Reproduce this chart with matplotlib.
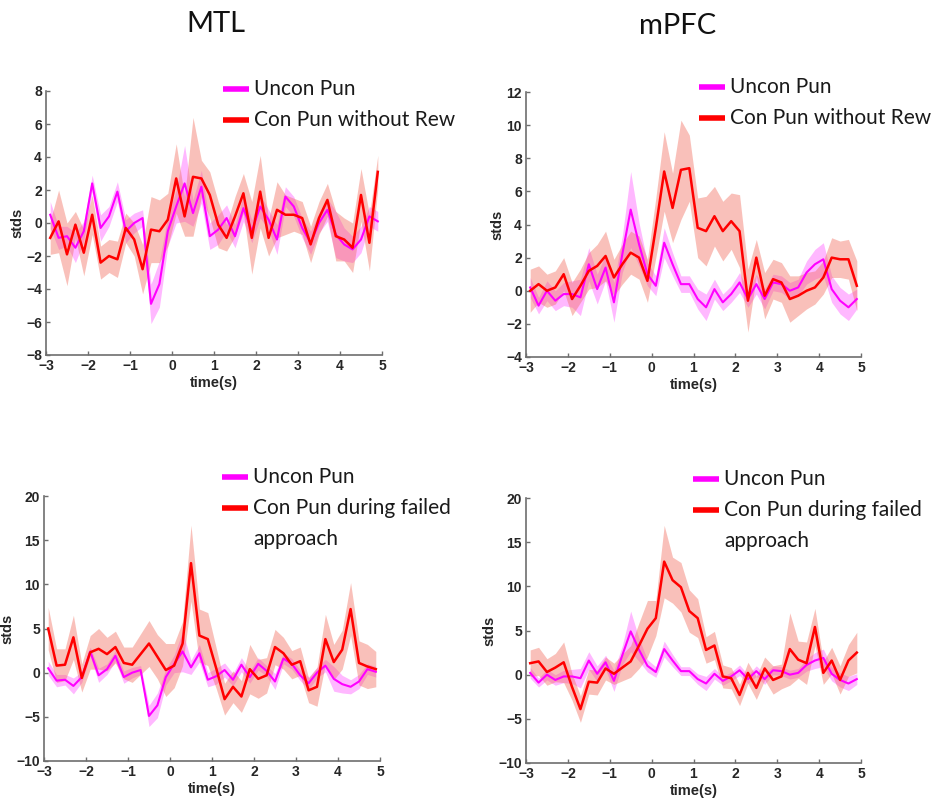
import matplotlib
matplotlib.use('Agg')
import matplotlib.pyplot as plt
from matplotlib.lines import Line2D
import numpy as np

# time axis (s), one point every 0.2 s
t = np.round(np.arange(-2.9, 4.95, 0.2), 1)

# MTL
mtl_uncon = [0.5, -0.9, -0.8, -1.5, -0.5, 2.4, -0.3, 0.4, 1.9, -0.5,
             0.0, 0.3, -4.9, -3.7, -0.5, 1.0, 2.4, 0.6, 2.2, -0.8,
             -0.4, 0.3, -0.8, 0.9, -0.5, 1.0, 0.2, -1.0, 1.6, 1.0,
             -0.3, -1.2, 0.0, 0.8, -0.7, -1.3, -1.6, -1.0, 0.4, 0.1]
mtl_uncon_sem = [0.8, 0.7, 0.6, 0.9, 0.6, 0.5, 0.8, 0.6, 0.6, 0.7,
                 0.6, 0.5, 1.2, 1.4, 0.9, 1.0, 2.3, 0.8, 1.0, 0.8,
                 0.9, 0.8, 0.7, 0.8, 0.7, 0.7, 0.6, 0.9, 0.6, 0.6,
                 0.6, 0.7, 0.6, 0.7, 1.4, 1.0, 0.8, 0.8, 0.6, 0.6]
mtl_norew = [-0.9, 0.1, -1.9, -0.1, -1.8, 0.5, -2.4, -2.0, -2.2, -0.3,
             -1.0, -2.8, -0.4, -0.5, 0.2, 2.7, 0.4, 2.8, 2.7, 1.7,
             -0.1, -0.9, 0.4, 1.8, -0.9, 1.9, -0.9, 0.8, 0.5, 0.5,
             0.3, -1.3, 0.3, 1.4, -0.8, -1.0, -1.5, 1.7, -1.2, 3.1]
mtl_norew_sem = [1.0, 1.9, 1.9, 0.8, 1.4, 1.2, 1.0, 1.0, 1.1, 0.9,
                 1.0, 1.5, 2.0, 1.9, 1.6, 2.1, 1.2, 3.6, 1.1, 1.4,
                 1.4, 0.8, 1.2, 1.2, 2.2, 2.2, 1.1, 1.7, 1.2, 1.0,
                 1.0, 1.1, 1.0, 1.0, 1.5, 1.3, 1.5, 1.6, 1.7, 1.0]
mtl_failed = [5.0, 0.8, 0.9, 4.0, -0.6, 2.3, 2.7, 2.1, 2.9, 1.1,
              0.9, 2.1, 3.3, 1.8, 0.3, 0.8, 3.3, 12.4, 4.2, 3.8,
              0.5, -3.0, -1.6, -2.7, 0.4, -0.7, -0.3, 2.9, 2.2, 0.9,
              1.3, -2.0, -1.6, 3.8, 1.2, 2.6, 7.2, 1.1, 0.7, 0.4]
mtl_failed_sem = [2.4, 1.9, 1.8, 2.5, 1.6, 1.9, 2.3, 1.9, 1.8, 1.8,
                  2.0, 2.3, 2.6, 2.5, 3.0, 2.5, 2.5, 4.3, 3.0, 3.0,
                  2.3, 1.8, 1.8, 1.8, 2.8, 2.2, 2.0, 2.0, 1.8, 1.6,
                  1.6, 1.4, 2.2, 2.8, 2.0, 2.2, 3.0, 2.5, 2.5, 2.0]

# mPFC
mpfc_uncon = [0.2, -0.9, 0.0, -0.6, -0.2, -0.2, -0.4, 1.6, 0.1, 1.4,
              -0.7, 2.2, 4.9, 2.8, 1.0, 0.3, 2.9, 1.6, 0.4, 0.4,
              -0.5, -1.0, 0.1, -0.7, -0.2, 0.5, -0.5, 0.4, -0.5, 0.5,
              0.4, 0.0, 0.2, 1.1, 1.6, 1.9, 0.1, -0.6, -1.0, -0.5]
mpfc_uncon_sem = [0.6, 0.5, 0.6, 0.6, 0.7, 0.8, 1.1, 1.0, 0.9, 0.8,
                  1.2, 1.1, 2.3, 1.3, 0.7, 0.6, 0.9, 0.7, 0.5, 0.5,
                  0.6, 0.8, 0.6, 0.5, 0.5, 0.6, 0.5, 0.6, 0.6, 0.5,
                  0.5, 0.5, 0.5, 0.7, 0.9, 1.0, 0.8, 0.8, 0.8, 0.6]
mpfc_norew = [0.0, 0.4, 0.0, 0.2, 1.0, -0.5, 0.3, 1.2, 1.5, 2.1,
              0.8, 1.6, 2.3, 2.0, 0.6, 3.8, 7.2, 5.0, 7.3, 7.4,
              3.8, 3.6, 4.5, 3.6, 4.2, 3.6, -0.6, 2.0, -0.3, 0.7,
              0.5, -0.5, -0.3, 0.0, 0.2, 0.8, 2.0, 1.9, 1.9, 0.3]
mpfc_norew_sem = [1.3, 1.1, 1.0, 1.0, 1.0, 1.0, 1.0, 1.1, 1.3, 1.5,
                  1.1, 1.2, 1.3, 1.3, 1.3, 1.8, 2.4, 2.1, 3.0, 2.0,
                  1.8, 2.1, 1.8, 1.8, 1.7, 2.2, 1.9, 1.1, 1.4, 1.2,
                  1.2, 1.4, 1.2, 1.1, 1.0, 1.0, 1.2, 1.1, 1.2, 1.5]
mpfc_failed = [1.3, 1.5, 0.3, 0.8, 1.4, -1.4, -3.9, -0.8, -0.9, 0.7,
               0.1, 0.8, 1.5, 3.3, 5.2, 6.4, 12.8, 10.7, 9.9, 7.2,
               6.4, 2.8, 3.3, -0.2, -0.4, -2.3, 0.2, -1.5, 0.7, -0.6,
               -0.2, 2.9, 1.7, 1.3, 5.4, 0.2, 1.6, -0.6, 1.6, 2.5]
mpfc_failed_sem = [1.5, 1.6, 1.5, 1.6, 2.3, 1.5, 1.5, 1.4, 1.4, 1.3,
                   1.2, 1.5, 1.8, 2.6, 3.2, 2.0, 4.1, 2.6, 2.8, 2.4,
                   2.2, 1.5, 1.6, 1.3, 1.2, 1.2, 1.2, 1.3, 1.3, 1.6,
                   1.4, 4.1, 2.1, 2.4, 2.1, 1.3, 1.5, 1.6, 1.8, 2.3]

MAG = '#ff00ff'
RED = '#ff0000'
BAND_RED = '#f26b5b'
TICK_FONT = 'Liberation Sans'
LEG_FONT = 'Lato'

W, H = 933, 800
fig = plt.figure(figsize=(W / 100, H / 100), dpi=100)


def px_x(x):
    return x / W


def px_y(y):
    return 1 - y / H


def panel(rect, uncon, uncon_sem, con, con_sem, yticks):
    ax = fig.add_axes(rect)
    u = np.array(uncon)
    us = np.array(uncon_sem)
    c = np.array(con)
    cs = np.array(con_sem)
    ax.fill_between(t, u - us, u + us, color=MAG, alpha=0.28, lw=0)
    ax.fill_between(t, c - cs, c + cs, color=BAND_RED, alpha=0.42, lw=0)
    ax.plot(t, u, color=MAG, lw=1.5)
    ax.plot(t, c, color=RED, lw=1.8)
    ax.set_xlim(-3, 5)
    ax.set_ylim(yticks[0], yticks[-1])
    ax.set_xticks(range(-3, 6))
    ax.set_yticks(yticks)
    for s in ['top', 'right']:
        ax.spines[s].set_visible(False)
    for s in ['left', 'bottom']:
        ax.spines[s].set_color('#6e6e6e')
        ax.spines[s].set_linewidth(1.2)
    ax.tick_params(direction='in', length=3, width=1, color='#6e6e6e',
                   labelsize=10, labelcolor='#262626', pad=3)
    for lab in ax.get_xticklabels() + ax.get_yticklabels():
        lab.set_fontweight('bold')
        lab.set_fontfamily(TICK_FONT)
    ax.set_xlabel('time(s)', fontsize=10.5, fontweight='bold', family=TICK_FONT,
                  color='#262626', labelpad=2)
    ax.set_ylabel('stds', fontsize=10.5, fontweight='bold', family=TICK_FONT,
                  color='#262626', labelpad=1)
    return ax


def legend(x0, y0, labels):
    # handle line then text, rows 31 px apart
    cols = [MAG, RED]
    for i, (lab, col) in enumerate(zip(labels, cols)):
        y = y0 + i * 31
        fig.add_artist(Line2D([px_x(x0), px_x(x0 + 26)], [px_y(y), px_y(y)],
                              color=col, lw=4, solid_capstyle='butt'))
        fig.text(px_x(x0 + 31), px_y(y), lab, fontsize=15, family=LEG_FONT,
                 color='#1a1a1a', va='center', ha='left')


panel([46 / W, 1 - 355 / H, 336 / W, 264 / H], mtl_uncon, mtl_uncon_sem,
      mtl_norew, mtl_norew_sem, list(range(-8, 9, 2)))
panel([526 / W, 1 - 357 / H, 335 / W, 265 / H], mpfc_uncon, mpfc_uncon_sem,
      mpfc_norew, mpfc_norew_sem, list(range(-4, 13, 2)))
panel([44 / W, 1 - 761 / H, 336 / W, 265 / H], mtl_uncon, mtl_uncon_sem,
      mtl_failed, mtl_failed_sem, list(range(-10, 21, 5)))
panel([526 / W, 1 - 763 / H, 335 / W, 265 / H], mpfc_uncon, mpfc_uncon_sem,
      mpfc_failed, mpfc_failed_sem, list(range(-10, 21, 5)))

legend(223, 89, ['Uncon Pun', 'Con Pun without Rew'])
legend(699, 87, ['Uncon Pun', 'Con Pun without Rew'])
legend(222, 477, ['Uncon Pun', 'Con Pun during failed'])
legend(693, 479, ['Uncon Pun', 'Con Pun during failed'])
fig.text(px_x(253), px_y(539), 'approach', fontsize=15, family=LEG_FONT,
         color='#1a1a1a', va='center', ha='left')
fig.text(px_x(724), px_y(541), 'approach', fontsize=15, family=LEG_FONT,
         color='#1a1a1a', va='center', ha='left')

fig.text(px_x(216), px_y(24), 'MTL', fontsize=21, family=LEG_FONT,
         color='#111111', ha='center', va='center')
fig.text(px_x(678), px_y(26), 'mPFC', fontsize=21, family=LEG_FONT,
         color='#111111', ha='center', va='center')

fig.savefig('out.png', dpi=100)
